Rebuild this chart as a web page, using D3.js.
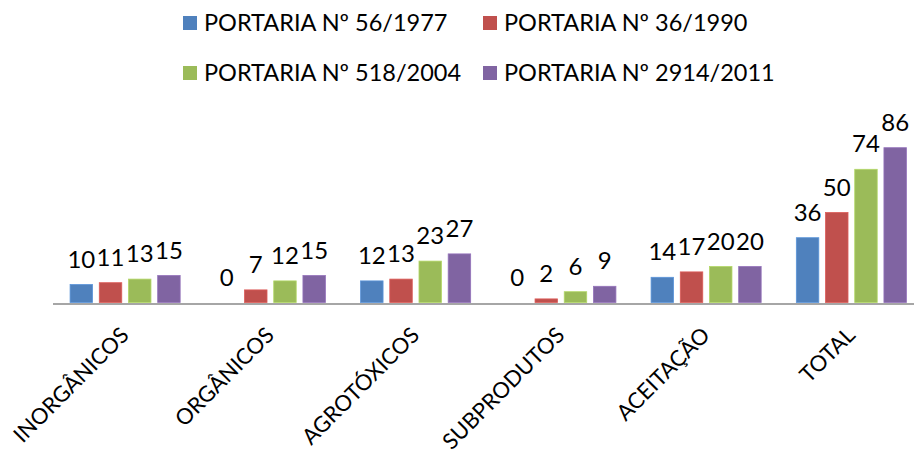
<!DOCTYPE html>
<html>
<head>
<meta charset="utf-8">
<script src="https://cdn.jsdelivr.net/npm/d3@7"></script>
<style>
  html, body { margin: 0; padding: 0; background: #fff; }
  svg { display: block; }
  text { font-family: Lato, "Open Sans", sans-serif; fill: #000; }
</style>
</head>
<body>
<svg id="chart" width="914" height="451"></svg>
<script>
const categories = ["INORGÂNICOS", "ORGÂNICOS", "AGROTÓXICOS", "SUBPRODUTOS", "ACEITAÇÃO", "TOTAL"];
const seriesNames = ["PORTARIA Nº 56/1977", "PORTARIA Nº 36/1990", "PORTARIA Nº 518/2004", "PORTARIA Nº 2914/2011"];
const portaria1977 = [10, 0, 12, 0, 14, 36];
const portaria1990 = [11, 7, 13, 2, 17, 50];
const portaria2004 = [13, 12, 23, 6, 20, 74];
const portaria2011 = [15, 15, 27, 9, 20, 86];
const seriesColors = ["#4F81BD", "#C0504D", "#9BBB59", "#8064A2"];
const seriesValues = [portaria1977, portaria1990, portaria2004, portaria2011];

const svg = d3.select("#chart");
const baseY = 302.5;

const x0 = d3.scaleBand().domain(categories).range([52.5, 924]).paddingInner(0).paddingOuter(0);
const x1 = d3.scaleBand().domain(seriesNames).range([-58.4, 58.4]).paddingInner(0.23).paddingOuter(0.115);
const y = d3.scaleLinear().domain([0, 100]).range([baseY, 122.5]);

const data = categories.map((c, i) => ({
  cat: c,
  vals: seriesNames.map((s, j) => ({ s, j, v: seriesValues[j][i] }))
}));

const g = svg.append("g");
const groups = g.selectAll("g.cat").data(data).join("g")
  .attr("transform", d => `translate(${x0(d.cat) + x0.bandwidth() / 2},0)`);

groups.selectAll("rect").data(d => d.vals).join("rect")
  .attr("x", d => x1(d.s))
  .attr("width", x1.bandwidth())
  .attr("y", d => y(d.v))
  .attr("height", d => baseY - y(d.v))
  .attr("fill", d => seriesColors[d.j])
  .attr("stroke", d => d3.color(seriesColors[d.j]).brighter(0.4))
  .attr("stroke-width", d => d.v > 0 ? 0.8 : 0);

groups.selectAll("text.val").data(d => d.vals).join("text")
  .attr("class", "val")
  .attr("x", d => x1(d.s) + x1.bandwidth() / 2)
  .attr("y", d => y(d.v) - 17)
  .attr("text-anchor", "middle")
  .style("font-size", "24px")
  .text(d => d.v);

// x axis
const xAxis = d3.axisBottom(x0).tickSize(0).tickPadding(0);
const ax = svg.append("g").attr("transform", `translate(0,${baseY + 1})`).call(xAxis);
ax.select(".domain").attr("stroke", "#A6A6A6").attr("stroke-width", 2);
ax.selectAll(".tick text")
  .style("font-size", "22px")
  .style("font-family", "Lato, 'Open Sans', sans-serif")
  .attr("fill", "#000")
  .attr("text-anchor", "end")
  .attr("dy", "0")
  .attr("transform", "translate(5,33) rotate(-45)");

// legend
const legendPos = [[183, 23], [483, 23], [183, 73], [483, 73]];
const leg = svg.append("g").selectAll("g").data(seriesNames).join("g")
  .attr("transform", (d, i) => `translate(${legendPos[i][0]},${legendPos[i][1]})`);
leg.append("rect").attr("x", 0).attr("y", -7).attr("width", 14).attr("height", 14)
  .attr("fill", (d, i) => seriesColors[i]);
leg.append("text").attr("x", 21).attr("y", 0).attr("dy", "0.35em")
  .style("font-size", "23.5px").text(d => d);
</script>
</body>
</html>
